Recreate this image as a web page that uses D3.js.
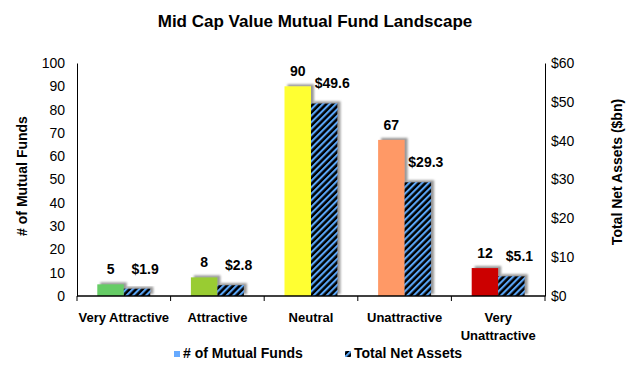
<!DOCTYPE html>
<html>
<head>
<meta charset="utf-8">
<script src="https://cdn.jsdelivr.net/npm/d3@7/dist/d3.min.js"></script>
<style>
  body { margin: 0; background: #fff; }
  text { font-family: "Liberation Sans", Arial, sans-serif; }
</style>
</head>
<body>
<script>
var categories = ['Very Attractive', 'Attractive', 'Neutral', 'Unattractive', 'Very Unattractive'];
var fundCounts = [5, 8, 90, 67, 12];
var netAssets = [1.9, 2.8, 49.6, 29.3, 5.1];
var barColors = ['#66cc66', '#99cc33', '#ffff33', '#ff9966', '#cc0000'];
var fundTicks = [0, 10, 20, 30, 40, 50, 60, 70, 80, 90, 100];
var assetTicks = [0, 10, 20, 30, 40, 50, 60];

var width = 630,
    height = 368;

var margin = {top: 63, left: 77, right: 85, bottom: 72};
var plotW = width - margin.left - margin.right,
    plotH = height - margin.top - margin.bottom;

var svg = d3.select('body')
  .append('svg')
  .attr('width', width)
  .attr('height', height);

var defs = svg.append('defs');

var hatch = defs.append('pattern')
  .attr('id', 'hatch')
  .attr('patternUnits', 'userSpaceOnUse')
  .attr('width', 4.6)
  .attr('height', 4.6)
  .attr('patternTransform', 'rotate(45)');
hatch.append('rect').attr('width', 4.6).attr('height', 4.6).attr('fill', '#000');
hatch.append('rect').attr('width', 2.1).attr('height', 4.6).attr('fill', '#5aa6f7');

var shadow = defs.append('filter')
  .attr('id', 'shadow')
  .attr('x', '-30%').attr('y', '-30%')
  .attr('width', '160%').attr('height', '160%');
shadow.append('feDropShadow')
  .attr('dx', 3)
  .attr('dy', -2)
  .attr('stdDeviation', 1.2)
  .attr('flood-color', '#777')
  .attr('flood-opacity', 0.75);

var x = d3.scaleBand()
  .domain(categories)
  .range([0, plotW]);

var inner = d3.scaleBand()
  .domain(['funds', 'assets'])
  .range([0, 53]);

var yFunds = d3.scaleLinear()
  .domain([0, 100])
  .range([plotH, 0]);

var yAssets = d3.scaleLinear()
  .domain([0, 60])
  .range([plotH, 0]);

var g = svg.append('g')
  .attr('transform', 'translate(' + margin.left + ',' + margin.top + ')');

// title
svg.append('text')
  .attr('x', 315)
  .attr('y', 27)
  .attr('text-anchor', 'middle')
  .style('font-size', '17px')
  .style('font-weight', 'bold')
  .text('Mid Cap Value Mutual Fund Landscape');

var groups = g.selectAll('.grp')
  .data(categories)
  .enter()
  .append('g')
  .attr('class', 'grp')
  .attr('transform', function(d) {
    return 'translate(' + (x(d) + (x.bandwidth() - 53) / 2) + ',0)';
  });

groups.append('rect')
  .attr('x', inner('funds'))
  .attr('width', inner.bandwidth())
  .attr('y', function(d, i) { return yFunds(fundCounts[i]); })
  .attr('height', function(d, i) { return plotH - yFunds(fundCounts[i]); })
  .attr('fill', function(d, i) { return barColors[i]; })
  .attr('filter', 'url(#shadow)');

groups.append('rect')
  .attr('x', inner('assets'))
  .attr('width', inner.bandwidth())
  .attr('y', function(d, i) { return yAssets(netAssets[i]); })
  .attr('height', function(d, i) { return plotH - yAssets(netAssets[i]); })
  .attr('fill', 'url(#hatch)')
  .attr('filter', 'url(#shadow)');

groups.append('text')
  .attr('x', inner('funds') + inner.bandwidth() / 2)
  .attr('y', function(d, i) { return yFunds(fundCounts[i]) - 10; })
  .attr('text-anchor', 'middle')
  .style('font-size', '14px')
  .style('font-weight', 'bold')
  .text(function(d, i) { return fundCounts[i]; });

groups.append('text')
  .attr('x', inner('assets') + inner.bandwidth() / 2 + 8)
  .attr('y', function(d, i) { return yAssets(netAssets[i]) - 15; })
  .attr('text-anchor', 'middle')
  .style('font-size', '14px')
  .style('font-weight', 'bold')
  .text(function(d, i) { return '$' + netAssets[i].toFixed(1); });

// left axis
var leftAxis = g.append('g')
  .call(d3.axisLeft(yFunds).tickValues(fundTicks).tickSize(0).tickPadding(12));
leftAxis.select('.domain').attr('stroke', '#000');
leftAxis.selectAll('text')
  .style('font-size', '14px')
  .style('font-family', '"Liberation Sans", Arial, sans-serif')
  .attr('fill', '#000');

// right axis
var rightAxis = g.append('g')
  .attr('transform', 'translate(' + plotW + ',0)')
  .call(d3.axisRight(yAssets).tickValues(assetTicks).tickSize(0).tickPadding(6)
    .tickFormat(function(d) { return '$' + d; }));
rightAxis.select('.domain').attr('stroke', '#000');
rightAxis.selectAll('text')
  .style('font-size', '14px')
  .style('font-family', '"Liberation Sans", Arial, sans-serif')
  .attr('fill', '#000');

// bottom axis
var bottom = g.append('g')
  .attr('transform', 'translate(0,' + plotH + ')');
bottom.append('line')
  .attr('x1', 0).attr('x2', plotW)
  .attr('stroke', '#000').attr('stroke-width', 1.5);
bottom.selectAll('.tick')
  .data(categories.concat(['end']))
  .enter()
  .append('line')
  .attr('x1', function(d, i) { return i * x.step(); })
  .attr('x2', function(d, i) { return i * x.step(); })
  .attr('y1', 0).attr('y2', 5)
  .attr('stroke', '#000');

bottom.selectAll('.cat')
  .data(categories)
  .enter()
  .append('text')
  .attr('class', 'cat')
  .attr('text-anchor', 'middle')
  .attr('transform', function(d) {
    return 'translate(' + (x(d) + x.bandwidth() / 2) + ',26)';
  })
  .style('font-size', '13px')
  .style('font-weight', 'bold')
  .each(function(d) {
    var lines = d === 'Very Unattractive' ? ['Very', 'Unattractive'] : [d];
    var t = d3.select(this);
    lines.forEach(function(l, k) {
      t.append('tspan').attr('x', 0).attr('dy', k === 0 ? 0 : 18).text(l);
    });
  });

// axis titles
svg.append('text')
  .attr('transform', 'translate(27,176) rotate(-90)')
  .attr('text-anchor', 'middle')
  .style('font-size', '14px')
  .style('font-weight', 'bold')
  .text('# of Mutual Funds');

svg.append('text')
  .attr('transform', 'translate(622,172) rotate(-90)')
  .attr('text-anchor', 'middle')
  .style('font-size', '14px')
  .style('font-weight', 'bold')
  .text('Total Net Assets ($bn)');

// legend
var legend = svg.append('g')
  .attr('transform', 'translate(174,351)');
legend.append('rect')
  .attr('width', 6).attr('height', 6)
  .attr('fill', '#66aaff');
legend.append('text')
  .attr('x', 9).attr('y', 7)
  .style('font-size', '14px')
  .style('font-weight', 'bold')
  .text('# of Mutual Funds');
legend.append('rect')
  .attr('x', 171)
  .attr('width', 6).attr('height', 6)
  .attr('fill', 'url(#hatch)');
legend.append('text')
  .attr('x', 180).attr('y', 7)
  .style('font-size', '14px')
  .style('font-weight', 'bold')
  .text('Total Net Assets');
</script>
</body>
</html>
